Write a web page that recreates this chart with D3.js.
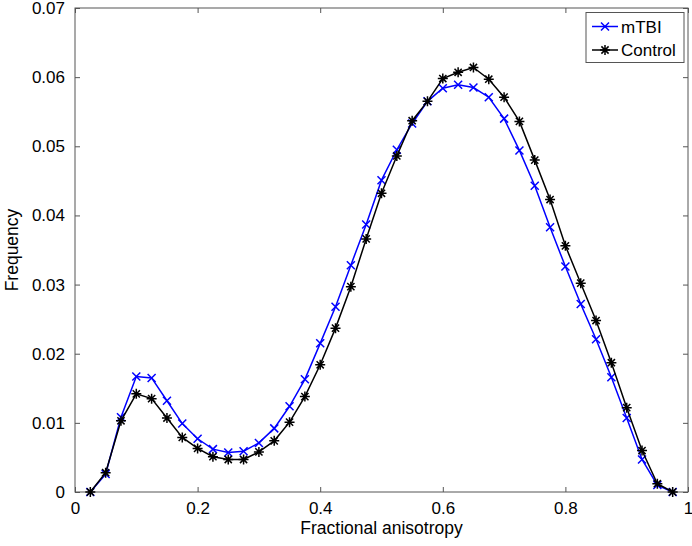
<!DOCTYPE html>
<html>
<head>
<meta charset="utf-8">
<script src="https://cdn.jsdelivr.net/npm/d3@7"></script>
<style>
  body { margin: 0; background: #fff; }
  svg { font-family: "Liberation Sans", Arial, sans-serif; }
</style>
</head>
<body>
<script>
const fa = [0.025, 0.05, 0.075, 0.1, 0.125, 0.15, 0.175, 0.2, 0.225, 0.25, 0.275, 0.3, 0.325, 0.35, 0.375,
  0.4, 0.425, 0.45, 0.475, 0.5, 0.525, 0.55, 0.575, 0.6, 0.625, 0.65, 0.675, 0.7, 0.725, 0.75,
  0.775, 0.8, 0.825, 0.85, 0.875, 0.9, 0.925, 0.95, 0.975]

const mtbi = [0, 0.0026, 0.0108, 0.0167, 0.0165, 0.0132, 0.0099, 0.0077, 0.0062, 0.0057, 0.0059, 0.0071, 0.0092, 0.0124, 0.0163,
  0.0215, 0.0268, 0.0328, 0.0387, 0.0451, 0.0495, 0.0533, 0.0565, 0.0584, 0.0589, 0.0585, 0.0571, 0.0540, 0.0494, 0.0443,
  0.0383, 0.0326, 0.0272, 0.0221, 0.0166, 0.0107, 0.0047, 0.0010, 0]

const control = [0, 0.0028, 0.0103, 0.0142, 0.0135, 0.0107, 0.0079, 0.0063, 0.0051, 0.0047, 0.0047, 0.0058, 0.0074, 0.0101, 0.0138,
  0.0184, 0.0237, 0.0297, 0.0366, 0.0432, 0.0486, 0.0537, 0.0565, 0.0598, 0.0607, 0.0614, 0.0597, 0.0571, 0.0536, 0.0480,
  0.0423, 0.0356, 0.0302, 0.0248, 0.0187, 0.0122, 0.0060, 0.0012, 0]

const xTicks = [0, 0.2, 0.4, 0.6, 0.8, 1]
const yTicks = [0, 0.01, 0.02, 0.03, 0.04, 0.05, 0.06, 0.07]
const seriesNames = ["mTBI", "Control"]

const width = 692, height = 546
const m = {left: 75, right: 4, top: 8, bottom: 54}

const svg = d3.select('body').append('svg')
    .attr('width', width)
    .attr('height', height)

const x = d3.scaleLinear().domain([0, 1]).range([m.left, width - m.right])
const y = d3.scaleLinear().domain([0, 0.07]).range([height - m.bottom, m.top])

const axisColor = '#555'
const tickFont = 17

// box
svg.append('rect')
    .attr('x', x(0)).attr('y', y(0.07))
    .attr('width', x(1) - x(0)).attr('height', y(0) - y(0.07))
    .attr('fill', 'none').attr('stroke', axisColor).attr('stroke-width', 1)

const gx = svg.append('g').attr('transform', `translate(0,${y(0)})`)
    .call(d3.axisBottom(x).tickValues(xTicks).tickSize(-5).tickPadding(10).tickFormat(d3.format('')))
const gxTop = svg.append('g').attr('transform', `translate(0,${y(0.07)})`)
    .call(d3.axisTop(x).tickValues(xTicks).tickSize(-5).tickFormat(''))
const gy = svg.append('g').attr('transform', `translate(${x(0)},0)`)
    .call(d3.axisLeft(y).tickValues(yTicks).tickSize(-5).tickPadding(10).tickFormat(d3.format('')))
const gyRight = svg.append('g').attr('transform', `translate(${x(1)},0)`)
    .call(d3.axisRight(y).tickValues(yTicks).tickSize(-5).tickFormat(''))

;[gx, gxTop, gy, gyRight].forEach(g => {
    g.select('.domain').remove()
    g.selectAll('line').attr('stroke', axisColor)
    g.selectAll('text').attr('font-size', tickFont).attr('fill', '#000')
        .attr('font-family', '"Liberation Sans", Arial, sans-serif')
})

svg.append('text')
    .attr('x', (x(0) + x(1)) / 2).attr('y', 534)
    .attr('text-anchor', 'middle').attr('font-size', 17.5)
    .text('Fractional anisotropy')

svg.append('text')
    .attr('transform', `translate(18,${(y(0) + y(0.07)) / 2}) rotate(-90)`)
    .attr('text-anchor', 'middle').attr('font-size', 17.5)
    .text('Frequency')

const line = d3.line()

const xMarker = (g, cx, cy, color) => {
    const s = 4
    g.append('path')
        .attr('d', `M${cx - s},${cy - s}L${cx + s},${cy + s}M${cx - s},${cy + s}L${cx + s},${cy - s}`)
        .attr('stroke', color).attr('stroke-width', 1.5).attr('fill', 'none')
}
const starMarker = (g, cx, cy, color) => {
    const s = 5, d = 3.6
    g.append('path')
        .attr('d', `M${cx - s},${cy}L${cx + s},${cy}M${cx},${cy - s}L${cx},${cy + s}` +
            `M${cx - d},${cy - d}L${cx + d},${cy + d}M${cx - d},${cy + d}L${cx + d},${cy - d}`)
        .attr('stroke', color).attr('stroke-width', 1.5).attr('fill', 'none')
}

const series = [
    {name: seriesNames[0], values: mtbi, color: '#0000ff', marker: xMarker},
    {name: seriesNames[1], values: control, color: '#000000', marker: starMarker}
]

series.forEach(s => {
    const pts = fa.map((v, i) => [x(v), y(s.values[i])])
    const g = svg.append('g')
    g.append('path')
        .attr('d', line(pts))
        .attr('fill', 'none')
        .attr('stroke', s.color)
        .attr('stroke-width', 1.5)
    pts.forEach(p => s.marker(g, p[0], p[1], s.color))
})

// legend
const leg = svg.append('g')
leg.append('rect')
    .attr('x', 586).attr('y', 12.5).attr('width', 98).attr('height', 50)
    .attr('fill', '#fff').attr('stroke', axisColor)
series.forEach((s, i) => {
    const ly = 26.5 + i * 23.5
    leg.append('line')
        .attr('x1', 592).attr('x2', 618).attr('y1', ly).attr('y2', ly)
        .attr('stroke', s.color).attr('stroke-width', 1.5)
    s.marker(leg, 605, ly, s.color)
    leg.append('text')
        .attr('x', 621).attr('y', ly + 6)
        .attr('font-size', 17)
        .text(s.name)
})
</script>
</body>
</html>
